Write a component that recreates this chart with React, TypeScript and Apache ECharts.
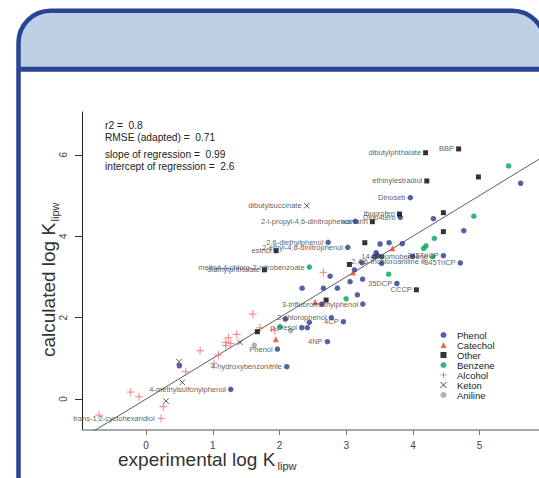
import React, { useEffect, useRef } from "react";
import * as echarts from "echarts";

type Pt = [number, number, string];

const xTickValues = [0, 1, 2, 3, 4, 5];
const yTickValues = [0, 2, 4, 6];

const phenol: Pt[] = [
  [5.615, 5.3, ""],
  [3.961, 4.946, "Dinoseb"],
  [3.811, 4.464, "Dino4terb"],
  [4.307, 4.43, ""],
  [3.138, 4.366, "2-i-propyl-4,6-dinitrophenol"],
  [4.763, 4.135, ""],
  [2.729, 3.85, "2,6-diethylphenol"],
  [3.024, 3.727, "2-ethyl-4,6-dinitrophenol"],
  [3.508, 3.808, ""],
  [3.643, 3.84, ""],
  [3.841, 3.816, ""],
  [3.448, 3.595, ""],
  [3.468, 3.531, ""],
  [3.418, 3.496, ""],
  [3.534, 3.496, ""],
  [3.993, 3.506, ""],
  [4.457, 3.521, "245TriCP"],
  [4.711, 3.342, "345TriCP"],
  [3.235, 3.349, ""],
  [3.531, 3.334, ""],
  [3.123, 3.17, ""],
  [2.759, 3.017, ""],
  [3.058, 2.882, ""],
  [3.246, 2.943, ""],
  [3.76, 2.838, "35DCP"],
  [2.339, 2.722, ""],
  [2.658, 2.722, ""],
  [2.868, 2.722, ""],
  [3.168, 2.56, ""],
  [2.634, 2.334, ""],
  [3.249, 2.334, "3-trifluoromethylphenol"],
  [2.778, 1.998, "2-chlorophenol"],
  [2.958, 1.899, "4CP"],
  [2.448, 1.885, ""],
  [2.334, 1.752, "p-cresol"],
  [2.418, 1.752, ""],
  [2.088, 1.966, ""],
  [2.718, 1.408, "4NP"],
  [1.969, 1.229, "Phenol"],
  [2.109, 0.794, "4-hydroxybenzonitrile"],
  [0.499, 0.818, ""],
  [1.27, 0.238, "4-methylsulfonylphenol"],
];

const catechol: Pt[] = [
  [3.693, 3.703, ""],
  [3.103, 3.108, ""],
  [2.534, 2.383, ""],
  [1.945, 1.467, ""],
];

const other: Pt[] = [
  [4.685, 6.143, "BBP"],
  [4.19, 6.049, "dibutylphthalate"],
  [4.982, 5.455, ""],
  [4.208, 5.356, "ethinylestradiol"],
  [3.798, 4.545, "ibuprofen"],
  [4.457, 4.577, ""],
  [3.393, 4.356, "warfarin"],
  [4.457, 4.111, ""],
  [3.279, 3.84, ""],
  [1.949, 3.644, "estriol"],
  [1.774, 3.174, "diethylphthalate"],
  [3.048, 3.305, ""],
  [4.052, 2.683, "CCCP"],
  [2.699, 2.432, ""],
  [1.669, 1.654, ""],
];

const benzene: Pt[] = [
  [5.435, 5.725, ""],
  [4.913, 4.491, ""],
  [4.321, 3.948, ""],
  [4.195, 3.759, ""],
  [4.16, 3.698, ""],
  [4.298, 3.496, "14-dibromobenzene"],
  [2.448, 3.243, "methyl-4-chloro-2-nitrobenzoate"],
  [3.636, 3.066, ""],
  [2.999, 2.462, ""],
  [2.009, 1.776, ""],
];

const alcohol: Pt[] = [
  [1.6, 2.088, ""],
  [1.709, 1.749, ""],
  [1.927, 1.688, ""],
  [1.36, 1.59, ""],
  [1.234, 1.506, ""],
  [1.195, 1.393, ""],
  [1.27, 1.369, ""],
  [1.195, 1.31, ""],
  [0.81, 1.187, ""],
  [1.084, 1.081, ""],
  [1.019, 0.877, ""],
  [0.595, 0.671, ""],
  [2.658, 3.113, ""],
  [-0.229, 0.172, ""],
  [-0.105, 0.057, ""],
  [0.259, -0.189, ""],
  [0.225, -0.474, "trans-1,2-cyclohexandiol"],
  [-0.705, -0.393, ""],
];

const keton: Pt[] = [
  [2.409, 4.749, "dibutylsuccinate"],
  [1.409, 1.393, ""],
  [0.495, 0.916, ""],
  [0.544, 0.41, ""],
  [0.3, -0.049, ""],
];

const aniline: Pt[] = [
  [4.16, 3.373, "2,4,6-trichloroaniline"],
  [2.169, 1.678, ""],
  [1.624, 1.327, ""],
];

const identityLine = [
  [-1, -1],
  [7, 7],
];

const statLines = [
  "r2 =  0.8",
  "RMSE (adapted) =  0.71",
  "slope of regression =  0.99",
  "intercept of regression =  2.6",
];

const FONT = "Liberation Sans";
const FRAME = "#2a4494";

function makeLabel() {
  return {
    show: true,
    position: "left",
    distance: 2,
    fontSize: 7.5,
    color: "#333333",
    textBorderWidth: 0,
    textBorderColor: "transparent",
    textShadowBlur: 0,
    fontFamily: FONT,
    formatter: (p: any) => p.value[2],
  };
}

function scatter(name: string, data: Pt[], symbol: string, size: number, itemStyle: any) {
  return {
    name,
    type: "scatter",
    data,
    symbol,
    symbolSize: size,
    itemStyle,
    label: makeLabel(),
    labelLine: { show: false },
    emphasis: { disabled: true },
  };
}

export default function App() {
  const ref = useRef<HTMLDivElement>(null);
  useEffect(() => {
    if (!ref.current) return;
    const chart = echarts.init(ref.current, null, { renderer: "svg" });
    const statY = [125, 137, 154, 166];
    chart.setOption({
      animation: false,
      backgroundColor: "#fff",
      textStyle: { fontFamily: FONT },
      grid: { left: 82, top: 112, right: 0, bottom: 48, containLabel: false, outerBoundsMode: "none" },
      xAxis: {
        type: "value",
        min: -0.96,
        max: 5.89,
        axisLine: { show: true, onZero: false, lineStyle: { color: "#8c8c8c", width: 1.5 } },
        axisTick: { show: true, length: 5, lineStyle: { color: "#777" }, customValues: xTickValues },
        axisLabel: { fontSize: 10, color: "#444", margin: 10, customValues: xTickValues },
        splitLine: { show: false },
      },
      yAxis: {
        type: "value",
        min: -0.76,
        max: 7.05,
        axisLine: { show: true, onZero: false, lineStyle: { color: "#222", width: 1 } },
        axisTick: { show: true, length: 7, lineStyle: { color: "#333" }, customValues: yTickValues },
        axisLabel: { fontSize: 10, color: "#444", margin: 14, rotate: 90, customValues: yTickValues },
        splitLine: { show: false },
      },
      legend: {
        orient: "vertical",
        left: 440,
        top: 330,
        padding: 0,
        itemWidth: 6,
        itemHeight: 6,
        itemGap: 0,
        selectedMode: false,
        textStyle: { fontSize: 9.5, lineHeight: 10, color: "#222", fontFamily: FONT, padding: [0, 0, 0, 5.5] },
        data: [
          { name: "Phenol" },
          { name: "Catechol" },
          { name: "Other" },
          { name: "Benzene" },
          { name: "Alcohol", itemStyle: { borderWidth: 1 } },
          { name: "Keton", itemStyle: { borderWidth: 1 } },
          { name: "Aniline" },
        ],
      },
      graphic: [
        {
          type: "rect",
          shape: { x: 18.5, y: 10.8, width: 526, height: 58.5, r: [32, 32, 0, 0] },
          style: { fill: "#bdd0e6" },
          silent: true,
        },
        {
          type: "rect",
          shape: { x: 18.5, y: 10.8, width: 526, height: 600, r: 32 },
          style: { fill: "none", stroke: FRAME, lineWidth: 4.5 },
          silent: true,
        },
        {
          type: "line",
          shape: { x1: 18.5, y1: 69.2, x2: 545, y2: 69.2 },
          style: { stroke: FRAME, lineWidth: 5 },
          silent: true,
        },
        ...statLines.map((t, i) => ({
          type: "text",
          x: 105,
          y: statY[i],
          style: { text: t, fontSize: 10.2, fill: "#222", fontFamily: FONT, align: "left", verticalAlign: "middle" },
          silent: true,
        })),
        {
          type: "text",
          x: 118,
          y: 459.5,
          style: { text: "experimental log K", fontSize: 19, fill: "#333", fontFamily: FONT, align: "left", verticalAlign: "middle" },
          silent: true,
        },
        {
          type: "text",
          x: 277.5,
          y: 466,
          style: { text: "lipw", fontSize: 11, fill: "#333", fontFamily: FONT, align: "left", verticalAlign: "middle" },
          silent: true,
        },
        {
          type: "text",
          x: 48,
          y: 357,
          rotation: Math.PI / 2,
          style: { text: "calculated log K", fontSize: 19, fill: "#333", fontFamily: FONT, align: "left", verticalAlign: "middle" },
          silent: true,
        },
        {
          type: "text",
          x: 55,
          y: 221.5,
          rotation: Math.PI / 2,
          style: { text: "lipw", fontSize: 11, fill: "#333", fontFamily: FONT, align: "left", verticalAlign: "middle" },
          silent: true,
        },
      ],
      series: [
        scatter("Phenol", phenol, "circle", 5.5, { color: "#2b3990" }),
        scatter("Catechol", catechol, "triangle", 6, { color: "#ef4123" }),
        scatter("Other", other, "rect", 5, { color: "#000" }),
        scatter("Benzene", benzene, "circle", 5.5, { color: "#00a651" }),
        scatter("Alcohol", alcohol, "path://M5,0L5,10M0,5L10,5", 8, {
          color: "rgba(0,0,0,0)",
          borderColor: "#f26464",
          borderWidth: 1,
        }),
        scatter("Keton", keton, "path://M0,0L10,10M10,0L0,10", 5.5, {
          color: "rgba(0,0,0,0)",
          borderColor: "#222",
          borderWidth: 0.9,
        }),
        scatter("Aniline", aniline, "circle", 5.5, { color: "#9aa0a8" }),
        {
          name: "identity",
          type: "line",
          data: identityLine,
          symbol: "none",
          clip: true,
          lineStyle: { color: "#333", width: 0.8 },
          emphasis: { disabled: true },
          z: 1,
        },
      ],
    });
    return () => chart.dispose();
  }, []);
  return (
    <div
      ref={ref}
      style={{ position: "absolute", left: 0, top: 0, width: 539, height: 478 }}
    />
  );
}
